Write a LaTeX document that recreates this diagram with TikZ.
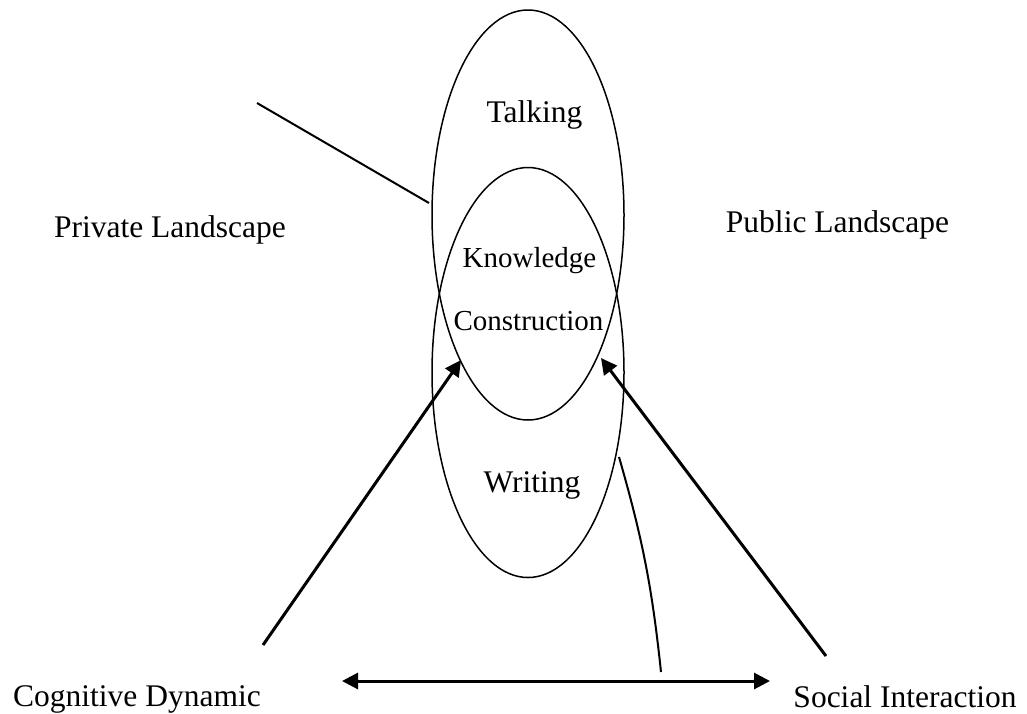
\documentclass[tikz,border=0pt]{standalone}
\usepackage{fontspec}
\setmainfont{Liberation Serif}
\usetikzlibrary{shapes.geometric,arrows.meta}
\begin{document}
\begin{tikzpicture}[x=1pt,y=-1pt]
    \tikzset{zone/.style = {shape=ellipse,draw,line width=1.5pt,minimum width=192pt,minimum height=410pt,inner sep=0pt}}
    \tikzset{label/.style = {anchor=base,inner sep=0pt,font=\fontsize{31.5}{38}\selectfont}}
    \tikzset{inlabel/.style = {anchor=base,inner sep=0pt,font=\fontsize{29}{35}\selectfont}}
    \tikzset{edge/.style = {line width=3pt,-{Triangle[length=16pt,width=16pt]}}}
    \tikzset{lead/.style = {line width=2pt}}
    \useasboundingbox (0,0) rectangle (1027,713);
    \node[zone] (talk) at (528,215) {};
    \node[zone] (write) at (528,372.5) {};
    \node[label] (talking) at (534.5,122) {Talking};
    \node[inlabel] (know) at (529.5,267) {Knowledge};
    \node[inlabel] (cons) at (528.5,330) {Construction};
    \node[label] (writing) at (532,492) {Writing};
    \node[label] (private) at (170,237) {Private Landscape};
    \node[label] (public) at (837.5,232) {Public Landscape};
    \node[label] (cog) at (137,706) {Cognitive Dynamic};
    \node[label] (social) at (905,707) {Social Interaction};
    \coordinate (p1) at (257,103);
    \coordinate (p2) at (429,203);
    \coordinate (w1) at (619,457);
    \coordinate (w2) at (661,672);
    \coordinate (c1) at (263,645);
    \coordinate (c2) at (461,360);
    \coordinate (s1) at (826,656);
    \coordinate (s2) at (601,358);
    \coordinate (d1) at (342,681);
    \coordinate (d2) at (770,681);
    \draw[lead] (p1) -- (p2);
    \draw[lead] (w1) to[bend left=5] (w2);
    \draw[edge] (c1) -- (c2);
    \draw[edge] (s1) -- (s2);
    \draw[edge,{Triangle[length=16pt,width=16pt]}-{Triangle[length=16pt,width=16pt]}] (d1) -- (d2);
\end{tikzpicture}
\end{document}
